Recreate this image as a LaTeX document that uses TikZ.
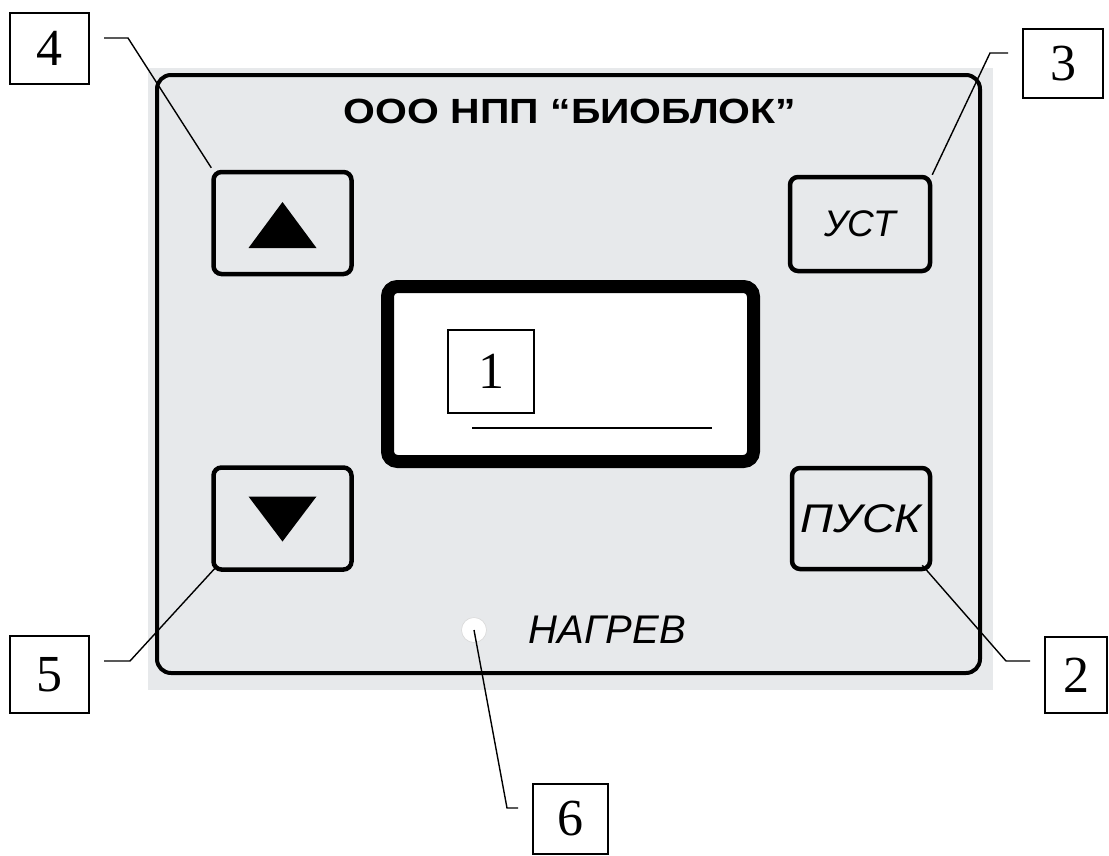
\documentclass[tikz,border=0pt]{standalone}
\usepackage{fontspec}
\setmainfont{Liberation Serif}
\setsansfont{Liberation Sans}
\usepackage{tikz}
\usetikzlibrary{positioning,calc}

\definecolor{panelgray}{RGB}{231,233,235}

\begin{document}
\begin{tikzpicture}[
  x=1pt, y=-1pt,
  btn/.style={rectangle, rounded corners=8pt, draw=black, line width=4.5pt, fill=panelgray, minimum width=138pt, minimum height=102pt, inner sep=0pt},
  tag/.style={rectangle, draw=black, line width=1.3pt, fill=white, inner sep=0pt, font=\fontsize{52}{52}\selectfont},
  caption/.style={font=\sffamily\itshape\fontsize{37}{37}\selectfont},
  line/.style={line width=1.4pt}
]
\useasboundingbox (0,0) rectangle (1109,855);
\fill[panelgray] (148,68) rectangle (993,690);
\node[rectangle, rounded corners=14pt, draw=black, line width=4pt, minimum width=823pt, minimum height=598pt] (panel) at (568.5,374) {};
\node[font=\sffamily\bfseries\fontsize{35}{35}\selectfont, xscale=1.17] (title) at (570,111) {ООО НПП “БИОБЛОК”};

% buttons
\node[btn] (up) at (282.5,223) {};
\fill (up.center) ++(0,-21) -- ++(34,46) -- ++(-68,0) -- cycle;
\node[btn] (down) at (282.5,518.5) {};
\fill (down.center) ++(0,23) -- ++(34,-45) -- ++(-68,0) -- cycle;
\node[btn, minimum width=140pt, minimum height=94pt, caption] (ust) at (860,224) {УСТ};
\node[btn, minimum width=138pt, minimum height=101pt, caption, font=\sffamily\itshape\fontsize{40}{40}\selectfont] (pusk) at (861,518.5) {\scalebox{1.13}[1]{ПУСК}};

% display
\node[rectangle, rounded corners=10pt, draw=black, fill=white, line width=13pt, minimum width=366pt, minimum height=175pt] (disp) at (570.5,374) {};

% heating lamp
\node[circle, fill=white, draw=white!85!black, line width=0.6pt, minimum size=25pt, inner sep=0pt] (led) at (474,630) {};
\node[caption, font=\sffamily\itshape\fontsize{40}{40}\selectfont, anchor=west] (heat) at (525,630) {НАГРЕВ};

% position tags
\node[tag, minimum width=86pt, minimum height=83pt] (tag1) at (491,371.5) {1};
\node[tag, minimum width=62pt, minimum height=76pt] (tag2) at (1076,675) {2};
\node[tag, minimum width=80pt, minimum height=69pt] (tag3) at (1063,63.5) {3};
\node[tag, minimum width=79pt, minimum height=71pt] (tag4) at (49.5,48.5) {4};
\node[tag, minimum width=79pt, minimum height=77pt] (tag5) at (49.5,674.5) {5};
\node[tag, minimum width=75pt, minimum height=70pt] (tag6) at (570.5,819) {6};

\coordinate (k2) at (1006,661);
\coordinate (k3) at (990,53);
\coordinate (k4) at (128,38);
\coordinate (k5) at (130,661);
\coordinate (k6) at (507,808);

\draw[line] (472,428) -- (712,428);
\draw[line] ([xshift=24pt]k2) -- (k2) -- ([xshift=-10pt,yshift=6pt]pusk.south east);
\draw[line] ([xshift=18pt]k3) -- (k3) -- (ust.north east);
\draw[line] ([xshift=-24pt]k4) -- (k4) -- ([yshift=2pt]up.north west);
\draw[line] ([xshift=-26pt]k5) -- (k5) -- ([xshift=6pt,yshift=6pt]down.south west);
\draw[line] ([xshift=11pt]k6) -- (k6) -- (led.center);
\end{tikzpicture}
\end{document}
